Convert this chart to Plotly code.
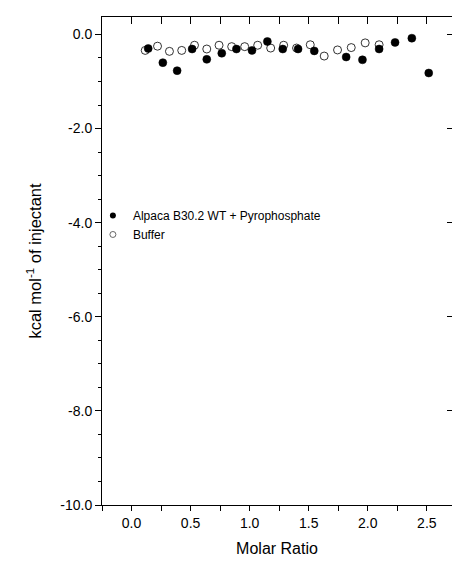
import plotly.graph_objects as go

# filled circles: protein + pyrophosphate
wt_x = [0.141, 0.265, 0.386, 0.513, 0.637, 0.764, 0.888, 1.02, 1.15, 1.28,
        1.41, 1.547, 1.817, 1.955, 2.096, 2.231, 2.373, 2.516]
wt_y = [-0.30, -0.60, -0.77, -0.31, -0.53, -0.40, -0.31, -0.34, -0.15, -0.31,
        -0.31, -0.35, -0.48, -0.54, -0.31, -0.17, -0.08, -0.82]

# open circles: buffer blank
buf_x = [0.116, 0.22, 0.321, 0.425, 0.533, 0.637, 0.741, 0.848, 0.958, 1.068,
         1.178, 1.288, 1.397, 1.513, 1.631, 1.744, 1.86, 1.978, 2.096]
buf_y = [-0.34, -0.25, -0.36, -0.34, -0.23, -0.31, -0.23, -0.26, -0.26, -0.23,
         -0.29, -0.23, -0.29, -0.22, -0.46, -0.33, -0.28, -0.18, -0.22]

series_names = ['Alpaca B30.2 WT + Pyrophosphate', 'Buffer']

y_tickvals = [0, -2, -4, -6, -8, -10]
y_ticktext = ['0.0', '-2.0', '-4.0', '-6.0', '-8.0', '-10.0']
x_tickvals = [0, 0.5, 1.0, 1.5, 2.0, 2.5]
x_ticktext = ['0.0', '0.5', '1.0', '1.5', '2.0', '2.5']

XR = [-0.25, 2.713]
YR = [-10, 0.37]
FONT = 'Arial, Liberation Sans, sans-serif'

fig = go.Figure()
fig.add_trace(go.Scatter(x=wt_x, y=wt_y, mode='markers', showlegend=False,
                         marker=dict(symbol='circle', size=8, color='black',
                                     line=dict(color='black', width=0.5))))
fig.add_trace(go.Scatter(x=buf_x, y=buf_y, mode='markers', showlegend=False,
                         marker=dict(symbol='circle-open', size=8, color='black',
                                     line=dict(color='black', width=0.8))))
# legend entries with smaller symbols, like the original
fig.add_trace(go.Scatter(x=[None], y=[None], mode='markers', name=series_names[0],
                         marker=dict(symbol='circle', size=6, color='black')))
fig.add_trace(go.Scatter(x=[None], y=[None], mode='markers', name=series_names[1],
                         marker=dict(symbol='circle-open', size=6, color='#444',
                                     line=dict(width=0.8))))
# empty trace to hold the top / right tick axes
fig.add_trace(go.Scatter(x=[None], y=[None], xaxis='x2', yaxis='y2', showlegend=False))

fig.update_layout(
    width=452, height=561,
    margin=dict(l=102, r=0, t=17, b=56),
    paper_bgcolor='white', plot_bgcolor='white',
    font=dict(family=FONT, size=14, color='black'),
    xaxis=dict(range=XR, tickvals=x_tickvals, ticktext=x_ticktext,
               showgrid=False, zeroline=False, showline=True, linecolor='black', linewidth=1,
               ticks='outside', ticklen=5, tickcolor='black',
               minor=dict(dtick=0.25, tick0=0, ticks='outside', ticklen=5, tickcolor='black'),
               title=dict(text='Molar Ratio', font=dict(size=16), standoff=13)),
    yaxis=dict(range=YR, tickvals=y_tickvals, ticktext=y_ticktext,
               showgrid=False, zeroline=False, showline=True, linecolor='black', linewidth=1,
               ticks='outside', ticklen=6, tickcolor='black',
               minor=dict(dtick=0.5, tick0=0, ticks='outside', ticklen=3, tickcolor='black'),
               title=dict(text='kcal mol<sup>-1</sup> of injectant', font=dict(size=16.5), standoff=14)),
    xaxis2=dict(range=XR, overlaying='x', side='top', showticklabels=False,
                showgrid=False, zeroline=False, showline=True, linecolor='black', linewidth=1,
                tickmode='linear', tick0=0, dtick=0.25,
                ticks='inside', ticklen=7, tickcolor='black'),
    # right frame line falls just off the picture in the original, only its ticks show
    yaxis2=dict(range=YR, overlaying='y', side='right', showticklabels=False,
                showgrid=False, zeroline=False, showline=False,
                tickmode='linear', tick0=0, dtick=2,
                ticks='inside', ticklen=5, tickcolor='black'),
    legend=dict(x=-0.026, y=0.623, xanchor='left', yanchor='top',
                bgcolor='rgba(0,0,0,0)', font=dict(size=12), itemwidth=30,
                tracegroupgap=0),
)

# drop the browser's default body margin so the figure sits at the page corner
fig.write_html("out.html", config={'displayModeBar': False},
               post_script="document.body.style.margin='0';")
